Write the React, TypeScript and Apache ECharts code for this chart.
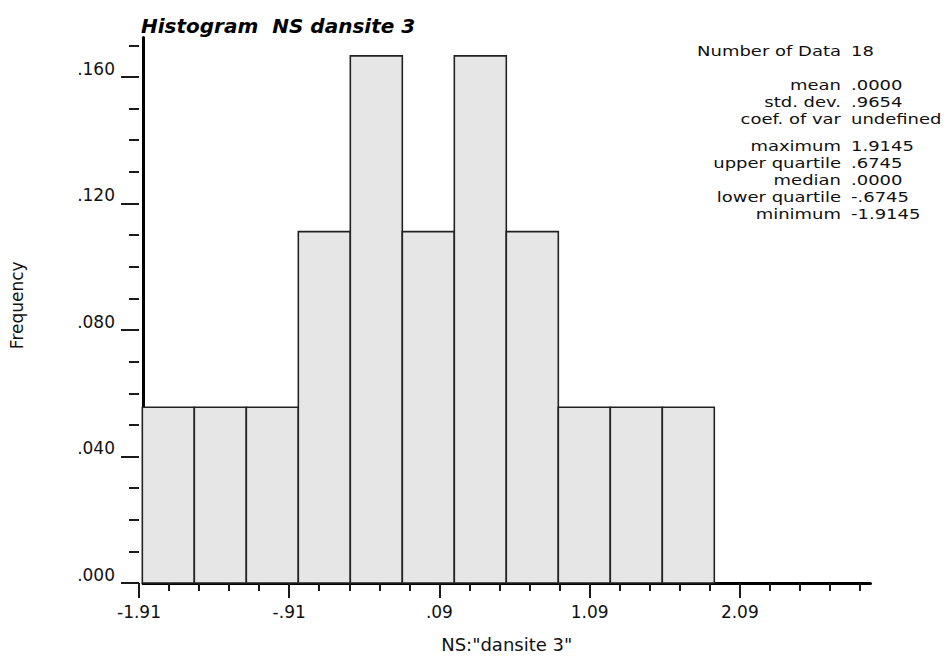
import React, { useEffect, useRef } from "react";
import * as echarts from "echarts";

// Sample summary: NS dansite 3, 18 values binned into 11 classes
const DATA_MIN = -1.9145;
const DATA_MAX = 1.9145;
const N_DATA = 18;
const binCounts = [1, 1, 1, 2, 3, 2, 3, 2, 1, 1, 1];

// x axis is drawn in offset units (value - X_ORIGIN) so that ticks land on -1.91, -.91, ...
const X_ORIGIN = -1.91;
const X_END = 4.87; // axis length in offset units
const X_MINOR_END = 4.8;
const X_MAJOR_END = 4;
const X_MAJOR_STEP = 1;
const X_MINOR_STEP = 0.2;

const Y_END = 0.1725;
const Y_MINOR_END = 0.17;
const Y_MAJOR_END = 0.16;
const Y_MAJOR_STEP = 0.04;
const Y_MINOR_STEP = 0.01;

const statLabels = [
  "Number of Data",
  "mean",
  "std. dev.",
  "coef. of var",
  "maximum",
  "upper quartile",
  "median",
  "lower quartile",
  "minimum",
];
const statValues = [
  "18",
  ".0000",
  ".9654",
  "undefined",
  "1.9145",
  ".6745",
  ".0000",
  "-.6745",
  "-1.9145",
];
const statRowY = [51, 85, 102, 119, 146, 163, 180, 197, 214];

// plot geometry (pixels)
const W = 952;
const H = 667;
const PLOT_LEFT = 139;
const PLOT_BASE = 583;
const PX_PER_X = 150.2;
const PX_PER_Y = 3162.5;
const STAT_LABEL_X = 841;
const STAT_VALUE_X = 851;
const STAT_FONT = 18;
const STAT_SQUASH = 0.82; // wide, short lettering of the summary block
const FONT = "DejaVu Sans";

const fmtTick = (v: number) => {
  const s = (v + X_ORIGIN).toFixed(2);
  return s.replace(/^(-?)0\./, "$1.");
};
const fmtFreq = (v: number) => v.toFixed(3).replace(/^0\./, ".");

function gridFor(xEnd: number, yEnd: number) {
  const height = yEnd * PX_PER_Y;
  return {
    left: PLOT_LEFT,
    top: PLOT_BASE - height,
    width: xEnd * PX_PER_X,
    height,
  };
}

function statText(text: string, x: number, y: number, align: string) {
  return {
    type: "text",
    x,
    y,
    scaleY: STAT_SQUASH,
    style: {
      text,
      align,
      verticalAlign: "middle",
      fontFamily: FONT,
      fontSize: STAT_FONT,
      lineHeight: STAT_FONT,
      fill: "#111",
    },
  };
}

export default function App() {
  const ref = useRef<HTMLDivElement>(null);

  useEffect(() => {
    if (!ref.current) return;
    const chart = echarts.init(ref.current, undefined, { renderer: "svg" });

    const binWidth = (DATA_MAX - DATA_MIN) / binCounts.length;
    const bars = binCounts.map((c, i) => {
      const lo = DATA_MIN + i * binWidth;
      const hi = lo + binWidth;
      return [lo - X_ORIGIN, hi - X_ORIGIN, c / N_DATA];
    });

    const tickColor = "#1a1a1a";
    const labelStyle = { fontFamily: FONT, fontSize: 17, color: "#111" };

    const graphics: any[] = [];
    statLabels.forEach((lab, i) => {
      graphics.push(statText(lab, STAT_LABEL_X, statRowY[i], "right"));
      graphics.push(statText(statValues[i], STAT_VALUE_X, statRowY[i], "left"));
    });

    chart.setOption({
      animation: false,
      backgroundColor: "#ffffff",
      title: {
        text: "Histogram  NS dansite 3",
        left: 141,
        top: 16,
        padding: 0,
        textStyle: {
          fontFamily: FONT,
          fontSize: 20,
          fontWeight: "bold",
          fontStyle: "italic",
          color: "#000",
        },
      },
      grid: [
        gridFor(X_END, Y_END),
        gridFor(X_MINOR_END, Y_MINOR_END),
        gridFor(X_MAJOR_END, Y_MAJOR_END),
      ],
      xAxis: [
        {
          gridIndex: 0,
          type: "value",
          min: 0,
          max: X_END,
          axisLine: { show: true, lineStyle: { color: "#000", width: 3 } },
          axisTick: { show: false },
          axisLabel: { show: false },
          splitLine: { show: false },
          name: 'NS:"dansite 3"',
          nameLocation: "middle",
          nameGap: 52,
          nameTextStyle: { fontFamily: FONT, fontSize: 18, color: "#111" },
        },
        {
          gridIndex: 1,
          type: "value",
          min: 0,
          max: X_MINOR_END,
          interval: X_MINOR_STEP,
          axisLine: { show: false },
          axisTick: { show: true, length: 8, lineStyle: { color: tickColor, width: 2 } },
          axisLabel: { show: false },
          splitLine: { show: false },
        },
        {
          gridIndex: 2,
          type: "value",
          min: 0,
          max: X_MAJOR_END,
          interval: X_MAJOR_STEP,
          axisLine: { show: false },
          axisTick: { show: true, length: 15, lineStyle: { color: tickColor, width: 2 } },
          axisLabel: { show: true, margin: 20, formatter: fmtTick, ...labelStyle },
          splitLine: { show: false },
        },
      ],
      yAxis: [
        {
          gridIndex: 0,
          type: "value",
          min: 0,
          max: Y_END,
          axisLine: { show: true, lineStyle: { color: "#000", width: 3 } },
          axisTick: { show: false },
          axisLabel: { show: false },
          splitLine: { show: false },
          name: "Frequency",
          nameLocation: "middle",
          nameGap: 118,
          nameRotate: 90,
          nameTextStyle: { fontFamily: FONT, fontSize: 17, color: "#111", padding: [0, 0, 0, 10] },
        },
        {
          gridIndex: 1,
          type: "value",
          min: 0,
          max: Y_MINOR_END,
          interval: Y_MINOR_STEP,
          axisLine: { show: false },
          axisTick: { show: true, length: 10, lineStyle: { color: tickColor, width: 2 } },
          axisLabel: { show: false },
          splitLine: { show: false },
        },
        {
          gridIndex: 2,
          type: "value",
          min: 0,
          max: Y_MAJOR_END,
          interval: Y_MAJOR_STEP,
          axisLine: { show: false },
          axisTick: { show: true, length: 18, lineStyle: { color: tickColor, width: 2 } },
          axisLabel: {
            show: true,
            margin: 24,
            verticalAlign: "bottom",
            formatter: fmtFreq,
            ...labelStyle,
          },
          splitLine: { show: false },
        },
      ],
      series: [
        {
          type: "custom",
          xAxisIndex: 0,
          yAxisIndex: 0,
          data: bars,
          encode: { x: [0, 1], y: 2 },
          renderItem: (_params: any, api: any) => {
            const p0 = api.coord([api.value(0), 0]);
            const p1 = api.coord([api.value(1), api.value(2)]);
            return {
              type: "rect",
              shape: {
                x: p0[0],
                y: p1[1],
                width: p1[0] - p0[0],
                height: p0[1] - p1[1],
              },
              style: { fill: "#e6e6e6", stroke: "#222", lineWidth: 1.6 },
            };
          },
        },
      ],
      graphic: graphics,
    });

    return () => chart.dispose();
  }, []);

  return (
    <div
      ref={ref}
      style={{ position: "fixed", left: 0, top: 0, width: W, height: H, background: "#fff" }}
    />
  );
}
